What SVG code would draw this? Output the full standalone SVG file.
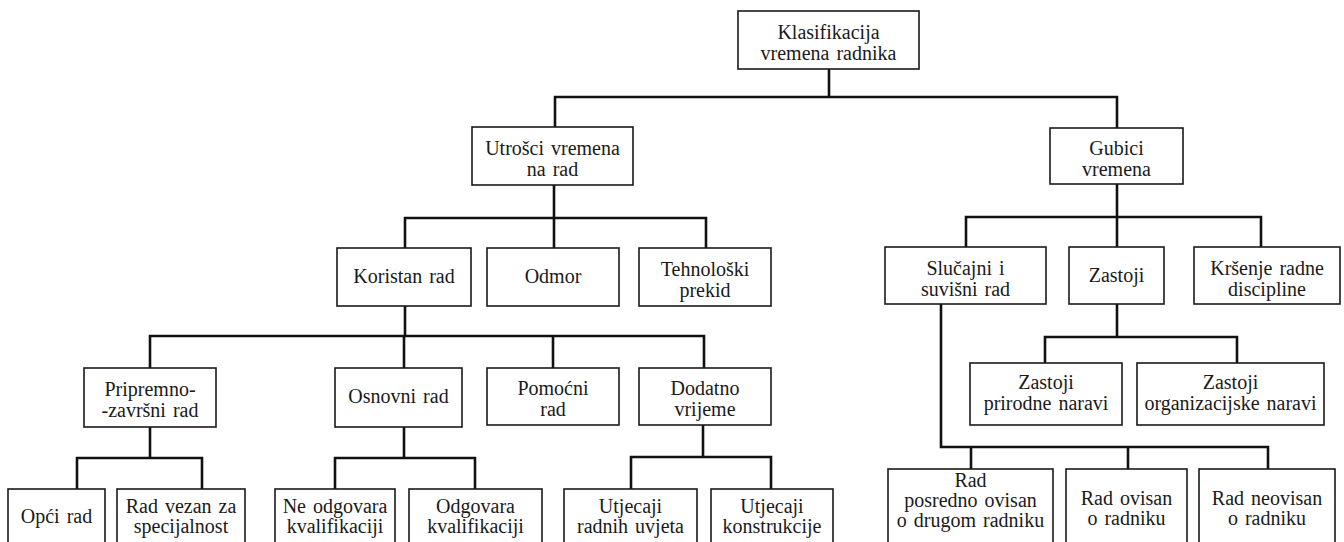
<svg xmlns="http://www.w3.org/2000/svg" width="1344" height="542" viewBox="0 0 1344 542">
<style>
.box{fill:#fff;stroke:#1a1a1a;stroke-width:1.6}
.t{font-family:'Liberation Serif','DejaVu Serif','Times New Roman',serif;font-size:20px;fill:#1a1a1a;text-anchor:middle;word-spacing:2px}
.c{fill:none;stroke:#111;stroke-width:2.6;stroke-linecap:square}
</style>
<rect width="1344" height="542" fill="#fff"/>
<g id="connectors">
<path class="c" d="M829 69V97M555 97H1117M555 97V127M1117 97V128"/>
<path class="c" d="M554 185V218M405 218H706M405 218V248M554 218V248M706 218V248"/>
<path class="c" d="M1117 184V217M966 217H1261M966 217V247M1117 217V247M1261 217V247"/>
<path class="c" d="M405 306V336M150 336H704M150 336V368M404 336V368M553 336V368M704 336V368"/>
<path class="c" d="M150 427V458M77 458H202M77 458V489M202 458V489"/>
<path class="c" d="M404 427V458M335 458H475M335 458V489M475 458V489"/>
<path class="c" d="M703 425V457M631 457H771M631 457V489M771 457V489"/>
<path class="c" d="M1117 304V337M1045 337H1237M1045 337V363M1237 337V363"/>
<path class="c" d="M941 304V447M941 447H1268M971 447V469M1128 447V469M1268 447V469"/>
</g>
<g font-family="Liberation Serif, DejaVu Serif, serif">
<g id="root"><rect class="box" x="738" y="11" width="181" height="58"/><text class="t" x="828.5" y="39">Klasifikacija</text><text class="t" x="828.5" y="60">vremena radnika</text></g>
<g id="utrosci"><rect class="box" x="472" y="127" width="161" height="58"/><text class="t" x="552.5" y="155">Utrošci vremena</text><text class="t" x="552.5" y="176">na rad</text></g>
<g id="gubici"><rect class="box" x="1050" y="128" width="133" height="56"/><text class="t" x="1116.5" y="155">Gubici</text><text class="t" x="1116.5" y="176">vremena</text></g>
<g id="koristan"><rect class="box" x="337" y="248" width="134" height="58"/><text class="t" x="404" y="283">Koristan rad</text></g>
<g id="odmor"><rect class="box" x="487" y="248" width="132" height="58"/><text class="t" x="553" y="283">Odmor</text></g>
<g id="tehnoloski"><rect class="box" x="639" y="248" width="132" height="58"/><text class="t" x="705" y="276">Tehnološki</text><text class="t" x="705" y="297">prekid</text></g>
<g id="slucajni"><rect class="box" x="885" y="247" width="161" height="57"/><text class="t" x="965.5" y="275">Slučajni i</text><text class="t" x="965.5" y="296">suvišni rad</text></g>
<g id="zastoji"><rect class="box" x="1069" y="247" width="95" height="57"/><text class="t" x="1116.5" y="282">Zastoji</text></g>
<g id="krsenje"><rect class="box" x="1194" y="247" width="146" height="57"/><text class="t" x="1267" y="275">Kršenje radne</text><text class="t" x="1267" y="296">discipline</text></g>
<g id="pripremno"><rect class="box" x="84" y="368" width="132" height="59"/><text class="t" x="150" y="396">Pripremno-</text><text class="t" x="150" y="417">-završni rad</text></g>
<g id="osnovni"><rect class="box" x="335" y="368" width="127" height="59"/><text class="t" x="398.5" y="403">Osnovni rad</text></g>
<g id="pomocni"><rect class="box" x="487" y="368" width="132" height="57"/><text class="t" x="553" y="395">Pomoćni</text><text class="t" x="553" y="416">rad</text></g>
<g id="dodatno"><rect class="box" x="639" y="368" width="132" height="57"/><text class="t" x="705" y="395">Dodatno</text><text class="t" x="705" y="416">vrijeme</text></g>
<g id="zastoji-prirodne"><rect class="box" x="970" y="363" width="152" height="62"/><text class="t" x="1046" y="389">Zastoji</text><text class="t" x="1046" y="410">prirodne naravi</text></g>
<g id="zastoji-organizacijske"><rect class="box" x="1137" y="363" width="187" height="62"/><text class="t" x="1230.5" y="389">Zastoji</text><text class="t" x="1230.5" y="410">organizacijske naravi</text></g>
<g id="opci"><rect class="box" x="8" y="489" width="97" height="60"/><text class="t" x="56.5" y="523">Opći rad</text></g>
<g id="rad-vezan"><rect class="box" x="117" y="489" width="128" height="60"/><text class="t" x="181" y="513">Rad vezan za</text><text class="t" x="181" y="533">specijalnost</text></g>
<g id="ne-odgovara"><rect class="box" x="275" y="489" width="120" height="60"/><text class="t" x="335" y="513">Ne odgovara</text><text class="t" x="335" y="533">kvalifikaciji</text></g>
<g id="odgovara"><rect class="box" x="409" y="489" width="133" height="60"/><text class="t" x="475.5" y="513">Odgovara</text><text class="t" x="475.5" y="533">kvalifikaciji</text></g>
<g id="utjecaji-radnih"><rect class="box" x="564" y="489" width="133" height="60"/><text class="t" x="630.5" y="513">Utjecaji</text><text class="t" x="630.5" y="533">radnih uvjeta</text></g>
<g id="utjecaji-konstrukcije"><rect class="box" x="711" y="489" width="122" height="60"/><text class="t" x="772" y="513">Utjecaji</text><text class="t" x="772" y="533">konstrukcije</text></g>
<g id="rad-posredno"><rect class="box" x="888" y="469" width="165" height="80"/><text class="t" x="970.5" y="487">Rad</text><text class="t" x="970.5" y="507">posredno ovisan</text><text class="t" x="970.5" y="527">o drugom radniku</text></g>
<g id="rad-ovisan"><rect class="box" x="1066" y="469" width="121" height="80"/><text class="t" x="1126.5" y="505">Rad ovisan</text><text class="t" x="1126.5" y="525">o radniku</text></g>
<g id="rad-neovisan"><rect class="box" x="1199" y="469" width="136" height="80"/><text class="t" x="1267" y="505">Rad neovisan</text><text class="t" x="1267" y="525">o radniku</text></g>
</g>
</svg>
